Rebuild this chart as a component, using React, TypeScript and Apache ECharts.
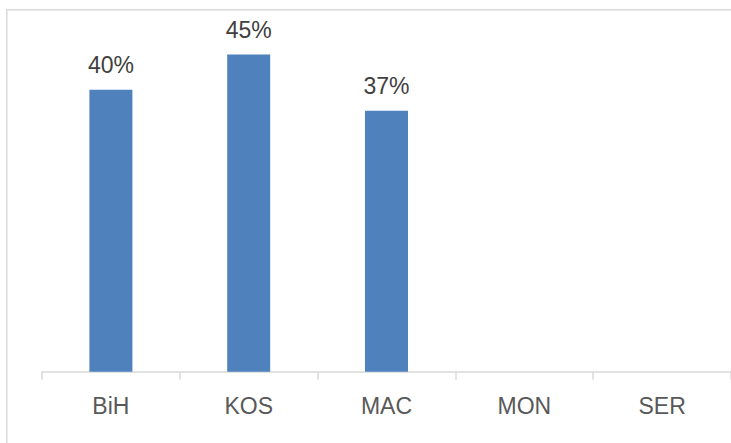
import React, { useEffect, useRef } from "react";
import * as echarts from "echarts";

const categories = ["BiH", "KOS", "MAC", "MON", "SER"];
const values: (number | null)[] = [40, 45, 37, null, null];
const yMax = 50;

export default function App() {
  const ref = useRef<HTMLDivElement>(null);
  useEffect(() => {
    if (!ref.current) return;
    const chart = echarts.init(ref.current, undefined, { renderer: "svg" });
    chart.setOption({
      animation: false,
      backgroundColor: "#ffffff",
      textStyle: { fontFamily: "Liberation Sans" },
      graphic: [
        {
          type: "line",
          shape: { x1: 6, y1: 9.75, x2: 731, y2: 9.75 },
          style: { stroke: "#d9d9d9", lineWidth: 1.5 },
          z: -1,
        },
        {
          type: "line",
          shape: { x1: 6.75, y1: 9, x2: 6.75, y2: 443 },
          style: { stroke: "#d9d9d9", lineWidth: 1.5 },
          z: -1,
        },
      ],
      grid: { left: 42, width: 690, top: 19.2, height: 352.5 },
      xAxis: {
        type: "category",
        data: categories,
        boundaryGap: true,
        axisLine: { lineStyle: { color: "#d9d9d9", width: 1.5 } },
        axisTick: { show: true, length: 8, lineStyle: { color: "#d9d9d9", width: 1.5 } },
        axisLabel: {
          color: "#595959",
          fontSize: 23,
          margin: 23,
          fontFamily: "Liberation Sans",
        },
      },
      yAxis: {
        type: "value",
        min: 0,
        max: yMax,
        show: false,
        splitLine: { show: false },
      },
      series: [
        {
          type: "bar",
          data: values,
          barWidth: 43,
          itemStyle: { color: "#4f81bd" },
          label: {
            show: true,
            position: "top",
            distance: 13,
            formatter: "{c}%",
            color: "#404040",
            fontSize: 23,
            fontFamily: "Liberation Sans",
          },
        },
      ],
    });
    return () => chart.dispose();
  }, []);
  return (
    <div
      ref={ref}
      style={{ position: "fixed", left: 0, top: 0, width: 731, height: 443 }}
    />
  );
}
